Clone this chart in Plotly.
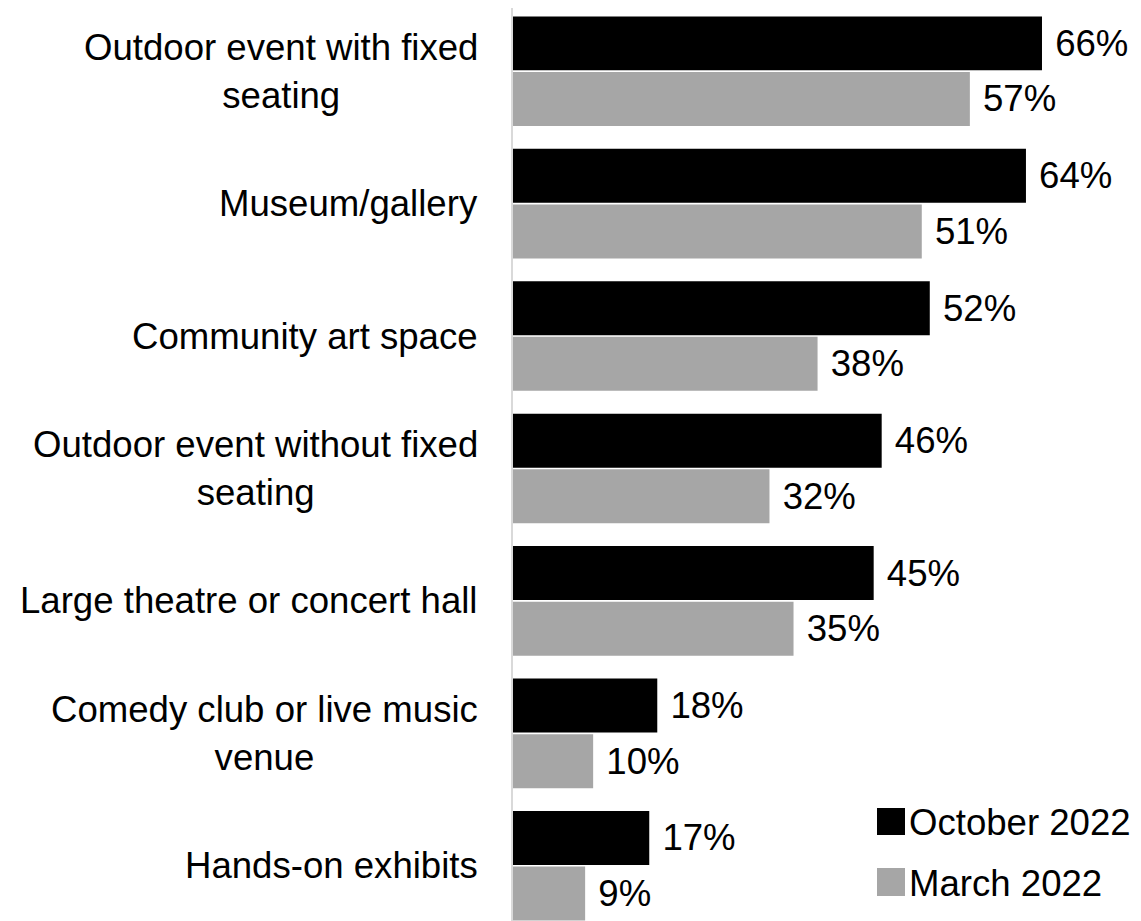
import plotly.graph_objects as go

categories = [
    "Outdoor event with fixed<br>seating",
    "Museum/gallery",
    "Community art space",
    "Outdoor event without fixed<br>seating",
    "Large theatre or concert hall",
    "Comedy club or live music<br>venue",
    "Hands-on exhibits",
]
october_2022 = [66, 64, 52, 46, 45, 18, 17]
march_2022 = [57, 51, 38, 32, 35, 10, 9]
series_names = ["October 2022", "March 2022"]
series_colors = ["#000000", "#A6A6A6"]

FONT = "Liberation Sans, Arial, sans-serif"
FS = 36.6
OFF = 8  # default page body margin
W, H = 1141 - OFF, 921 - OFF
ML, MT, MR, MB = 513 - OFF, 0, 0, 0
PW, PH = W - ML - MR, H - MT - MB

fig = go.Figure()
for name, vals, col in zip(series_names, [october_2022, march_2022], series_colors):
    fig.add_trace(go.Bar(
        y=categories, x=vals, name=name, orientation="h",
        marker=dict(color=col, line=dict(width=0)),
        text=vals, texttemplate=" %{x}%", textposition="outside",
        textfont=dict(family=FONT, size=FS, color="#000000"),
        cliponaxis=False, showlegend=False,
    ))

# category labels (centered multi-line, right-anchored next to axis)
for c in categories:
    fig.add_annotation(
        x=0, xref="paper", y=c, yref="y", text=c, showarrow=False,
        xanchor="right", yanchor="middle", align="center", xshift=-33,
        font=dict(family=FONT, size=FS, color="#000000"),
    )

# custom legend with large swatches (page pixel positions -> paper)
def px_x(px):
    return (px - OFF - ML) / PW

def px_y(py):
    return 1 - (py - OFF - MT) / PH

leg_rows = [(808, 835), (868, 896)]
for (y0, y1), name, col in zip(leg_rows, series_names, series_colors):
    fig.add_shape(type="rect", xref="paper", yref="paper",
                  x0=px_x(877), x1=px_x(905), y0=px_y(y1), y1=px_y(y0),
                  fillcolor=col, line=dict(width=0))
    fig.add_annotation(x=px_x(907), xref="paper", y=px_y((y0 + y1) / 2 + 1), yref="paper",
                       text=name, showarrow=False, xanchor="left", yanchor="middle",
                       font=dict(family=FONT, size=FS, color="#000000"))

fig.update_layout(
    width=W, height=H,
    margin=dict(l=ML, r=MR, t=MT, b=MB, pad=0),
    paper_bgcolor="white", plot_bgcolor="white",
    barmode="group", bargap=0.16, bargroupgap=0.03,
    font=dict(family=FONT, size=FS, color="#000000"),
    xaxis=dict(range=[0, PW / 8.015], visible=False, showgrid=False, zeroline=False),
    yaxis=dict(range=[6.417, -0.477], showticklabels=False, ticks="",
               showline=True, linecolor="#D9D9D9", linewidth=2,
               showgrid=False, zeroline=False),
)

fig.write_html("out.html")
